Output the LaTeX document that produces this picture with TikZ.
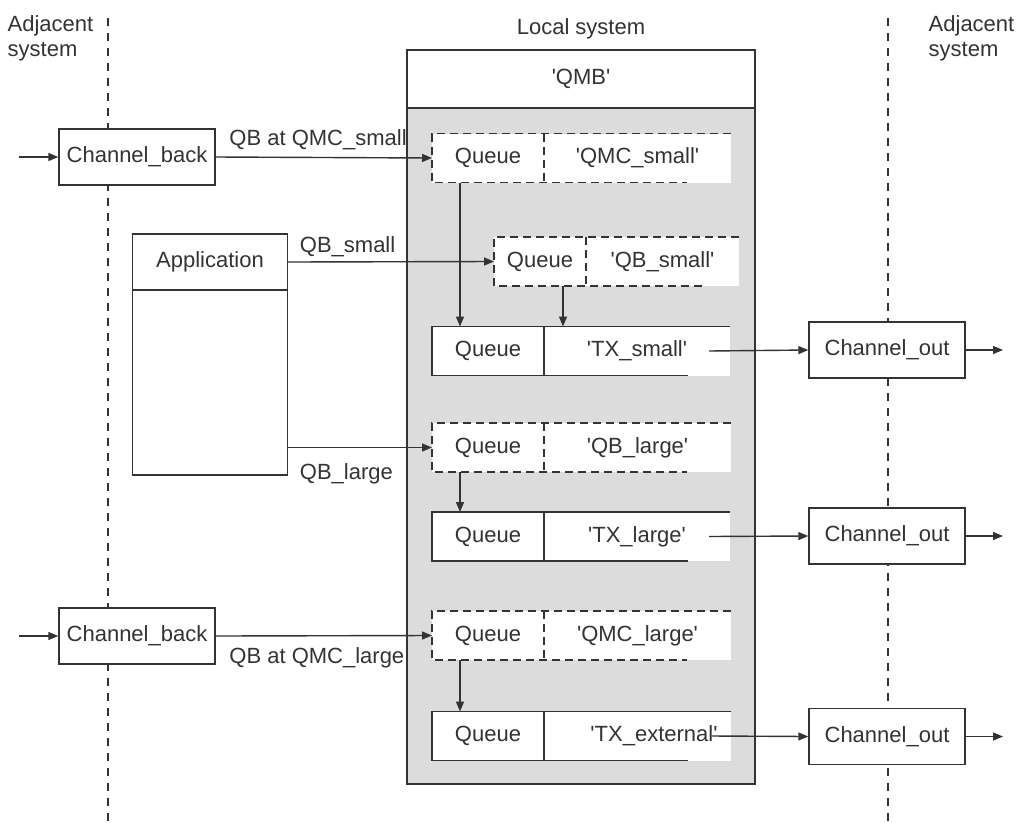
\documentclass[tikz,border=0pt]{standalone}
\usepackage{fontspec}
\setmainfont{Liberation Sans}
\usetikzlibrary{arrows.meta,positioning,calc}
\definecolor{ink}{HTML}{333333}
\definecolor{qmbgray}{HTML}{DCDCDC}
\newcommand{\qtext}[1]{\textquotesingle#1\textquotesingle}

\begin{document}
\begin{tikzpicture}[
  x=1pt, y=-1pt,
  font=\fontsize{22}{25}\selectfont,
  color=ink,
  line width=1.4pt,
  box/.style={draw, fill=white, minimum width=156, minimum height=56, inner sep=0},
  qpart/.style={fill=white, minimum width=112, minimum height=49, inner sep=0, outer sep=0},
  qname/.style={fill=white, anchor=west, minimum width=187, minimum height=49, inner sep=0, outer sep=0},
  lbl/.style={inner sep=0, anchor=base west},
  head/.style={inner sep=0, align=left},
  qdash/.style={dash pattern=on 8pt off 5pt},
  sep/.style={dash pattern=on 8pt off 7pt, line width=1.5pt},
  arrow/.style={-{Triangle[length=10pt,width=8pt]}}
]
\useasboundingbox (0,0) rectangle (1019,822);

% system borders
\draw[sep] (108,18) -- (108,822);
\draw[sep] (888,18) -- (888,822);

\node[head, anchor=north west] (adjleft) at (7,15) {Adjacent\\system};
\node[head, anchor=north west] (adjright) at (928,15) {Adjacent\\system};
\node[head, anchor=north] (local) at (581,18) {Local system};

% queue manager
\node[draw, fill=white, minimum width=348, minimum height=58, inner sep=0, outer sep=0] (qmb) at (581,79) {\qtext{QMB}};
\node[draw, fill=qmbgray, minimum width=348, minimum height=676, inner sep=0, outer sep=0, anchor=north] (qmbbody) at (qmb.south) {};

% channels and application
\node[box] (chback1) at (137,157) {Channel\_back};
\node[box] (chback2) at (137,636) {Channel\_back};
\node[box] (chout1) at (887,350) {Channel\_out};
\node[box] (chout2) at (887,536) {Channel\_out};
\node[box] (chout3) at (887,736.5) {Channel\_out};
\node[box, minimum width=155] (app) at (210,262) {Application};
\node[box, minimum width=155, minimum height=185, anchor=north] (appbody) at ([yshift=1.4pt]app.south) {};

% queues
\node[qpart] (qmcsq) at (488,158) {Queue};
\node[qname] (qmcsn) at (qmcsq.east) {\qtext{QMC\_small}};
\draw[qdash] (qmcsn.north east) -- (qmcsq.north west) -- (qmcsq.south west) -- ++(255,0);
\draw[qdash] (qmcsq.north east) -- (qmcsq.south east);

\node[qpart, minimum width=92] (qbsq) at (540,261.5) {Queue};
\node[qname, minimum width=153] (qbsn) at (qbsq.east) {\qtext{QB\_small}};
\draw[qdash] (qbsn.north east) -- (qbsq.north west) -- (qbsq.south west) -- ++(211,0);
\draw[qdash] (qbsq.north east) -- (qbsq.south east);

\node[qpart] (txsq) at (488,351) {Queue};
\node[qname, minimum width=186] (txsn) at (txsq.east) {\qtext{TX\_small}};
\draw (txsn.north east) -- (txsq.north west) -- (txsq.south west) -- ++(256,0);
\draw (txsq.north east) -- (txsq.south east);

\node[qpart] (qblq) at (488,447.5) {Queue};
\node[qname] (qbln) at (qblq.east) {\qtext{QB\_large}};
\draw[qdash] (qbln.north east) -- (qblq.north west) -- (qblq.south west) -- ++(255,0);
\draw[qdash] (qblq.north east) -- (qblq.south east);

\node[qpart] (txlq) at (488,536.5) {Queue};
\node[qname, minimum width=186] (txln) at (txlq.east) {\qtext{TX\_large}};
\draw (txln.north east) -- (txlq.north west) -- (txlq.south west) -- ++(256,0);
\draw (txlq.north east) -- (txlq.south east);

\node[qpart] (qmclq) at (488,635.5) {Queue};
\node[qname] (qmcln) at (qmclq.east) {\qtext{QMC\_large}};
\draw[qdash] (qmcln.north east) -- (qmclq.north west) -- (qmclq.south west) -- ++(255,0);
\draw[qdash] (qmclq.north east) -- (qmclq.south east);

\node[qpart] (txeq) at (488,736) {Queue};
\node[qname, text width=160, align=right] (txen) at (txeq.east) {\qtext{TX\_external}};
\draw (txen.north east) -- (txeq.north west) -- (txeq.south west) -- ++(256,0);
\draw (txeq.north east) -- (txeq.south east);

% free ends
\coordinate (in1) at (19,157);
\coordinate (in2) at (19,636);
\coordinate (out1) at (1003,350);
\coordinate (out2) at (1003,536);
\coordinate (out3) at (1003,736.5);
\coordinate (appqbl) at (appbody.east |- qblq.west);

% connectors
\draw[arrow] (in1) -- (chback1.west);
\draw[arrow] (in2) -- (chback2.west);
\draw[arrow] (chback1.east) -- (qmcsq.west);
\draw[arrow] (chback2.east) -- (qmclq.west);
\draw[arrow] (app.east) -- (qbsq.west);
\draw[arrow] (appqbl) -- (qblq.west);
\draw[arrow] ([xshift=-28pt]qmcsq.south) -- ([xshift=-28pt]txsq.north);
\draw[arrow] ([xshift=23pt]qbsq.south) -- ([xshift=23pt]qbsq.south |- txsq.north);
\draw[arrow] ([xshift=-28pt]qblq.south) -- ([xshift=-28pt]txlq.north);
\draw[arrow] ([xshift=-28pt]qmclq.south) -- ([xshift=-28pt]txeq.north);
\draw[arrow] ([xshift=-21pt]txsn.east) -- (chout1.west);
\draw[arrow] ([xshift=-21pt]txln.east) -- (chout2.west);
\draw[arrow] ([xshift=-19pt]txen.east) -- (chout3.west);
\draw[arrow] (chout1.east) -- (out1);
\draw[arrow] (chout2.east) -- (out2);
\draw[arrow] (chout3.east) -- (out3);

% connector labels
\node[lbl] (lblqmcs) at ([xshift=13pt,yshift=12pt]chback1.east) {QB at QMC\_small};
\node[lbl] (lblqmcl) at ([xshift=13pt,yshift=-27pt]chback2.east) {QB at QMC\_large};
\node[lbl] (lblqbs) at ([xshift=11pt,yshift=10pt]app.east) {QB\_small};
\node[lbl] (lblqbl) at ([xshift=11pt,yshift=-32pt]appqbl) {QB\_large};

\end{tikzpicture}
\end{document}
